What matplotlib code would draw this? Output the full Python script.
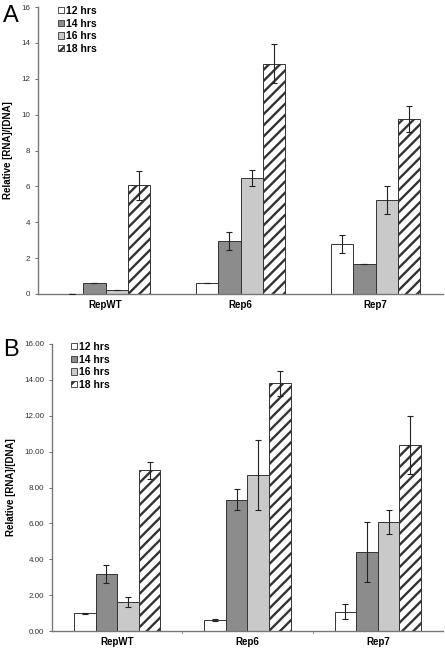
import numpy as np
import matplotlib
matplotlib.use('Agg')
import matplotlib.pyplot as plt
from matplotlib.patches import Patch

#data
groups = ['RepWT', 'Rep6', 'Rep7']
series = ['12 hrs', '14 hrs', '16 hrs', '18 hrs']

a_vals = [[0.02, 0.62, 2.8],
          [0.6, 2.95, 1.7],
          [0.22, 6.45, 5.25],
          [6.05, 12.85, 9.75]]
a_errs = [[0.0, 0.02, 0.5],
          [0.0, 0.5, 0.0],
          [0.0, 0.45, 0.78],
          [0.82, 1.1, 0.72]]

b_vals = [[0.99, 0.6, 1.08],
          [3.18, 7.33, 4.4],
          [1.6, 8.7, 6.09],
          [8.95, 13.8, 10.37]]
b_errs = [[0.03, 0.05, 0.41],
          [0.52, 0.6, 1.65],
          [0.27, 1.97, 0.67],
          [0.47, 0.7, 1.63]]

a_ticks = [0, 2, 4, 6, 8, 10, 12, 14, 16]
b_ticks = [0, 2, 4, 6, 8, 10, 12, 14, 16]

colors = ['white', '#8c8c8c', '#c9c9c9', 'white']
hatches = [None, None, None, '///']

plt.rcParams['hatch.linewidth'] = 1.7
plt.rcParams['font.family'] = ['Liberation Sans', 'DejaVu Sans']

W, H = 445, 650
fig = plt.figure(figsize=(W / 100, H / 100), dpi=100)


def panel(rect, vals, errs, ticks, fmt, letter, letter_xy, leg_xy, xticks_between):
    l, t, r, b = rect
    ax = fig.add_axes([l / W, 1 - b / H, (r - l) / W, (b - t) / H])
    x = np.arange(len(groups))
    w = 0.166
    for i in range(len(series)):
        ax.bar(x + (i - 1.5) * w, vals[i], w, color=colors[i], edgecolor='#333333',
               linewidth=0.7, hatch=hatches[i], zorder=2)
        e = np.array(errs[i])
        ax.errorbar(x + (i - 1.5) * w, vals[i], yerr=e, fmt='none', ecolor='#222222',
                    elinewidth=0.8, capsize=2.5, capthick=0.8, zorder=3)
    ax.set_xlim(-0.5, len(groups) - 0.5)
    ax.set_ylim(0, 16)
    ax.set_yticks(ticks)
    ax.set_yticklabels([fmt.format(v) for v in ticks], fontsize=5.8, color='#333333')
    ax.set_xticks(x)
    ax.set_xticklabels(groups, fontsize=7, fontweight='bold')
    ax.tick_params(axis='x', length=0, pad=4)
    ax.tick_params(axis='y', length=2.5, width=0.6, color='#555555', pad=3)
    for s in ['top', 'right']:
        ax.spines[s].set_visible(False)
    for s in ['left', 'bottom']:
        ax.spines[s].set_color('#777777')
        ax.spines[s].set_linewidth(1.0)
    if xticks_between:
        for xm in [0.5, 1.5]:
            ax.plot([xm, xm], [0, -0.12], color='#777777', lw=0.6, clip_on=False)
    ax.set_ylabel('Relative [RNA]/[DNA]', fontsize=7, fontweight='bold', labelpad=6)
    fig.text(letter_xy[0] / W, 1 - letter_xy[1] / H, letter, fontsize=17,
             va='center', ha='left')
    handles = [Patch(facecolor=colors[i], edgecolor='#333333', hatch=hatches[i], linewidth=0.6)
               for i in range(len(series))]
    fig.legend(handles, series, loc='upper left',
               bbox_to_anchor=(leg_xy[0] / W, 1 - leg_xy[1] / H),
               frameon=False, prop={'size': 7.5, 'weight': 'bold'},
               handlelength=0.55, handleheight=0.55, handletextpad=0.2,
               labelspacing=0.25, borderpad=0, borderaxespad=0)
    return ax


panel((38, 7, 443, 294), a_vals, a_errs, a_ticks, '{:d}', 'A', (3, 16), (58, 6), False)
panel((52, 344, 443, 631), b_vals, b_errs, b_ticks, '{:.2f}', 'B', (3, 350), (71, 342), True)

fig.savefig('out.png', dpi=100)
